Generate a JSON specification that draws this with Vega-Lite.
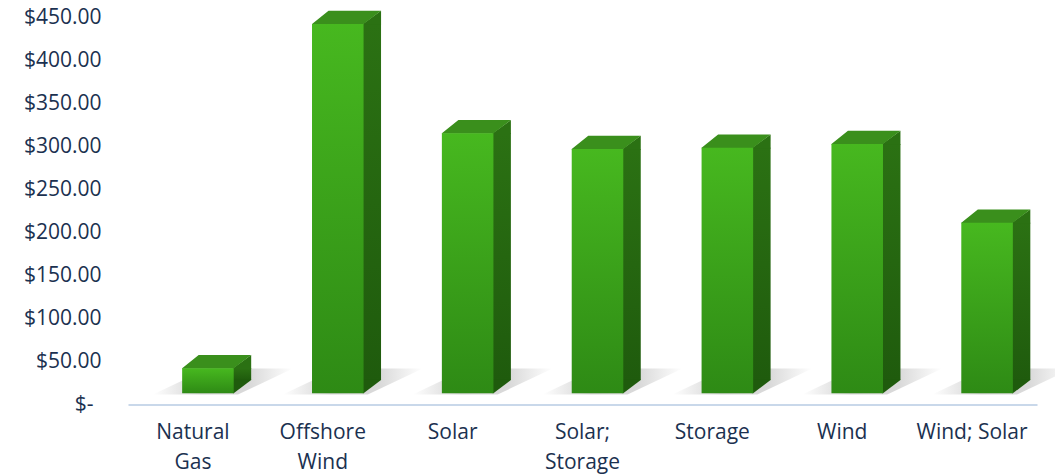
{
  "$schema": "https://vega.github.io/schema/vega-lite/v6.json",
  "autosize": {"type": "none"},
  "width": 909,
  "height": 387,
  "padding": {"left": 128, "top": 17.5, "right": 18, "bottom": 70.5},
  "background": "#ffffff",
  "config": {"view": {"stroke": null}},
  "data": {
    "values": [
      {"tech": "Natural Gas", "cost": 29.1},
      {"tech": "Offshore Wind", "cost": 429.4},
      {"tech": "Solar", "cost": 302.3},
      {"tech": "Solar; Storage", "cost": 284.1},
      {"tech": "Storage", "cost": 285.6},
      {"tech": "Wind", "cost": 289.9},
      {"tech": "Wind; Solar", "cost": 198.4}
    ]
  },
  "encoding": {
    "x": {
      "field": "tech",
      "type": "nominal",
      "sort": null,
      "scale": {"paddingInner": 0.603, "paddingOuter": 0.3015},
      "axis": {
        "title": null,
        "labelAngle": 0,
        "ticks": false,
        "domain": true,
        "domainColor": "#c9d8ea",
        "domainWidth": 2,
        "labelFont": "Open Sans",
        "labelFontSize": 21,
        "labelColor": "#1b3150",
        "labelPadding": 17,
        "labelLineHeight": 30,
        "labelExpr": "indexof(['Natural Gas','Offshore Wind','Solar; Storage'], datum.label) >= 0 ? split(datum.label, ' ') : datum.label"
      }
    }
  },
  "layer": [
    {
      "mark": {
        "type": "point",
        "filled": true,
        "size": 4,
        "strokeWidth": 0,
        "opacity": 1,
        "shape": "M -40 -10 L 45 -10 L 100 -36 L 15 -36 Z",
        "fill": {"gradient": "linear", "x1": 0, "y1": 0, "x2": 1, "y2": 0,
          "stops": [
            {"offset": 0, "color": "#ffffff"},
            {"offset": 0.35, "color": "#d3d3d3"},
            {"offset": 0.7, "color": "#dadada"},
            {"offset": 1, "color": "#ffffff"}
          ]}
      },
      "encoding": {
        "y": {"datum": 0, "type": "quantitative"}
      }
    },
    {
      "mark": {
        "type": "bar",
        "width": 18.5,
        "xOffset": 49,
        "yOffset": -11.2,
        "y2Offset": -24.5,
        "fill": {"gradient": "linear", "x1": 0, "y1": 0, "x2": 0, "y2": 1,
          "stops": [
            {"offset": 0, "color": "#2b7113"},
            {"offset": 1, "color": "#1f5b0d"}
          ]}
      },
      "encoding": {
        "y": {
          "field": "cost",
          "type": "quantitative",
          "scale": {"domain": [0, 450], "nice": false},
          "axis": {
            "title": null,
            "grid": false,
            "domain": false,
            "ticks": false,
            "values": [0, 50, 100, 150, 200, 250, 300, 350, 400, 450],
            "labelFont": "Open Sans",
            "labelFontSize": 21,
            "labelColor": "#1b3150",
            "labelPadding": {"condition": {"test": "datum.value === 0", "value": 35}, "value": 27},
            "labelExpr": "datum.value == 0 ? '$-' : '$' + format(datum.value, '.2f')"
          }
        },
        "y2": {"datum": 0}
      }
    },
    {
      "mark": {
        "type": "point",
        "filled": true,
        "size": 4,
        "strokeWidth": 0,
        "opacity": 1,
        "shape": "M 40 -11.2 L 58.25 -24.5 L 58.25 -10.5 L 40 -10.5 Z",
        "fill": "#2b7113"
      },
      "encoding": {"y": {"field": "cost", "type": "quantitative"}}
    },
    {
      "mark": {
        "type": "point",
        "filled": true,
        "size": 4,
        "strokeWidth": 0,
        "opacity": 1,
        "shape": "M 40 -25 L 58.25 -25 L 58.25 -24.5 L 40.75 -11.2 L 40 -11.2 Z",
        "fill": "#1f5b0d"
      },
      "encoding": {"y": {"datum": 0, "type": "quantitative"}}
    },
    {
      "mark": {
        "type": "point",
        "filled": true,
        "size": 4,
        "strokeWidth": 0,
        "opacity": 1,
        "shape": "M -10.75 -10.7 L -10.75 -11.2 L 5.75 -24.5 L 58.25 -24.5 L 40.75 -11.2 L 40.75 -10.7 Z",
        "fill": "#3a8f1c"
      },
      "encoding": {"y": {"field": "cost", "type": "quantitative"}}
    },
    {
      "mark": {
        "type": "bar",
        "xOffset": 15,
        "x2Offset": 15,
        "yOffset": -11.2,
        "y2Offset": -11.2,
        "fill": {"gradient": "linear", "x1": 0, "y1": 0, "x2": 0, "y2": 1,
          "stops": [
            {"offset": 0, "color": "#47b81f"},
            {"offset": 1, "color": "#2e8a15"}
          ]}
      },
      "encoding": {
        "y": {"field": "cost", "type": "quantitative"},
        "y2": {"datum": 0}
      }
    }
  ]
}
